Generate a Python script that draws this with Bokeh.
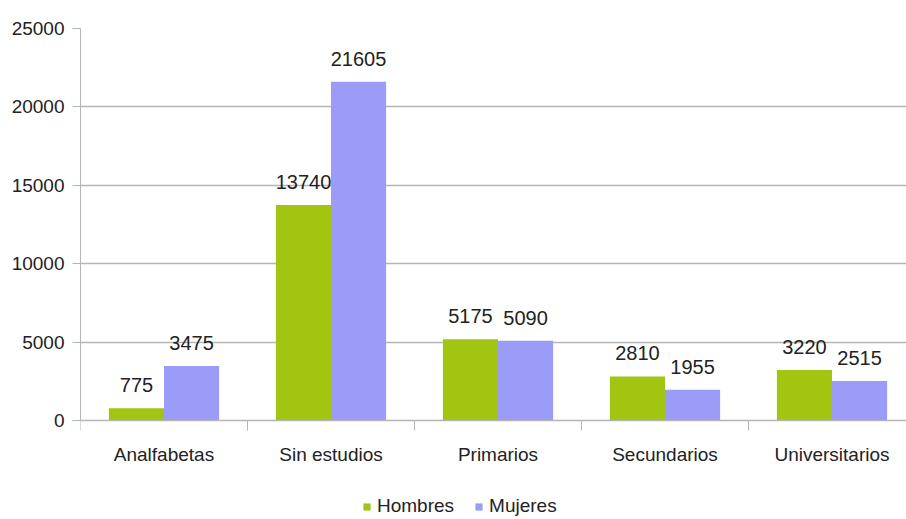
from bokeh.plotting import figure
from bokeh.models import ColumnDataSource, Range1d, FixedTicker, Legend, LegendItem
from bokeh.core.properties import value
from bokeh.embed import file_html
from bokeh.resources import INLINE

categories = ["Analfabetas", "Sin estudios", "Primarios", "Secundarios", "Universitarios"]
hombres = [775, 13740, 5175, 2810, 3220]
mujeres = [3475, 21605, 5090, 1955, 2515]
y_ticks = [0, 5000, 10000, 15000, 20000, 25000]

FONT = "Liberation Sans"
GREEN = "#a2c512"
LAV = "#9b9bf8"
GRID = "#b5b5b5"

# layout (pixels): plot area from y=28 to 420 for 0..25000, legend drawn below within frame
TOP, ZERO_PX, BOTTOM = 28, 420, 519
YMAX = 25000
ymin = -YMAX * (BOTTOM - ZERO_PX) / (ZERO_PX - TOP)

centers = [i + 0.5 for i in range(len(categories))]
xh = [c - 0.165 for c in centers]
xm = [c + 0.165 for c in centers]

src_h = ColumnDataSource(dict(x=xh, top=hombres, label=[str(v) for v in hombres]))
src_m = ColumnDataSource(dict(x=xm, top=mujeres, label=[str(v) for v in mujeres]))

p = figure(frame_width=826, frame_height=BOTTOM - TOP, output_backend="svg", toolbar_location=None,
           x_range=Range1d(0, 826 / 167), y_range=Range1d(ymin, YMAX),
           min_border_left=80, min_border_right=0, min_border_top=TOP, min_border_bottom=0)
p.outline_line_color = None

rh = p.vbar(x="x", top="top", width=0.33, source=src_h, fill_color=GREEN, line_color=None)
rm = p.vbar(x="x", top="top", width=0.33, source=src_m, fill_color=LAV, line_color=None)

for src in (src_h, src_m):
    p.text(x="x", y="top", text="label", source=src, text_align="center",
           text_baseline="alphabetic", y_offset=-23, text_font=value(FONT),
           text_font_size="20px", text_color="#222222")

# y axis
p.yaxis.ticker = FixedTicker(ticks=y_ticks)
p.yaxis.bounds = (0, YMAX)
p.yaxis.axis_line_color = GRID
p.yaxis.major_tick_line_color = GRID
p.yaxis.major_tick_out = 8
p.yaxis.major_tick_in = 0
p.yaxis.minor_tick_line_color = None
p.yaxis.major_label_text_font = FONT
p.yaxis.major_label_text_font_size = "19px"
p.yaxis.major_label_text_color = "#222222"
p.yaxis.major_label_standoff = 8

# x axis
p.xaxis.fixed_location = 0
p.xaxis.ticker = FixedTicker(ticks=centers, minor_ticks=list(range(len(categories) + 1)))
p.xaxis.major_label_overrides = {c: n for c, n in zip(centers, categories)}
p.xaxis.axis_line_color = GRID
p.xaxis.major_tick_line_color = None
p.xaxis.minor_tick_line_color = GRID
p.xaxis.minor_tick_out = 10
p.xaxis.minor_tick_in = 0
p.xaxis.major_label_text_font = FONT
p.xaxis.major_label_text_font_size = "19px"
p.xaxis.major_label_text_color = "#222222"
p.xaxis.major_label_standoff = 13

p.xgrid.grid_line_color = None
p.ygrid.ticker = FixedTicker(ticks=y_ticks)
p.ygrid.grid_line_color = GRID
p.ygrid.grid_line_width = 1.5

legend = Legend(items=[LegendItem(label="Hombres", renderers=[rh]),
                       LegendItem(label="Mujeres", renderers=[rm])],
                orientation="horizontal", location=(282, 2),
                glyph_width=9, glyph_height=9, label_standoff=6, spacing=20,
                label_text_font=FONT, label_text_font_size="19px",
                label_text_color="#222222", border_line_color=None,
                background_fill_alpha=0, padding=2, margin=0)
p.add_layout(legend)

open("out.html", "w").write(file_html(p, INLINE))
